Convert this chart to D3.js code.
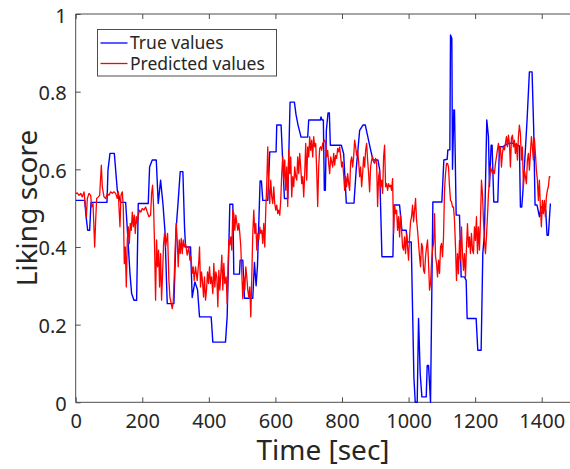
<!DOCTYPE html>
<html>
<head>
<meta charset="utf-8">
<script src="https://cdn.jsdelivr.net/npm/d3@7"></script>
<style>
  body { margin: 0; background: #fff; }
  text { font-family: "Noto Sans", "DejaVu Sans", sans-serif; fill: #262626; }
</style>
</head>
<body>
<svg width="570" height="469"></svg>
<script>
// true liking score (blue), time in sec
var trueT = [0,27,31,36,42,46,94,97,103,116,125,135,150,155,163,168,175,183,188,218,222,230,242,248,255,262,268,275,295,
  302,308,314,322,327,330,345,350,358,366,372,407,412,450,455,460,463,472,475,492,494,502,507,532,537,542,546,554,558,
  562,577,583,602,604,617,623,627,637,644,657,662,668,677,697,700,735,737,740,744,747,750,753,758,762,765,798,805,813,
  836,843,853,863,870,876,886,893,908,913,920,953,956,973,980,993,996,1008,1016,1020,1026,1030,1035,1040,1053,1056,
  1060,1066,1073,1100,1106,1116,1118,1124,1126,1130,1132,1136,1138,1143,1153,1158,1168,1173,1176,1203,1208,1218,1223,
  1228,1235,1240,1243,1248,1251,1256,1268,1273,1283,1295,1310,1333,1336,1340,1343,1350,1356,1363,1371,1376,1380,1386,
  1393,1398,1408,1412,1416,1420,1426];
var trueV = [.52,.52,.48,.443,.443,.515,.515,.598,.641,.641,.546,.515,.515,.447,.332,.28,.263,.263,.512,.512,.606,.624,.624,.512,.572,.512,.443,.254,.254,
  .45,.52,.594,.594,.45,.40,.40,.27,.31,.29,.22,.22,.155,.155,.22,.40,.51,.51,.33,.33,.366,.366,.268,.268,.36,.30,.35,.57,.57,
  .52,.52,.645,.645,.714,.714,.60,.525,.525,.773,.773,.74,.714,.683,.683,.727,.727,.735,.727,.727,.546,.546,.70,.745,.745,.662,.662,.64,.513,
  .513,.603,.70,.714,.714,.69,.65,.624,.624,.60,.375,.375,.508,.508,.443,.443,.413,.413,.065,0,0,.216,.073,.014,.014,.095,
  .095,0,.516,.516,.624,.626,.65,.65,.946,.937,.60,.753,.753,.482,.482,.323,.323,.314,.216,.216,.134,.134,.383,
  .435,.727,.684,.555,.662,.662,.516,.516,.658,.658,.665,.668,.66,.503,.503,.537,.637,.727,.851,.851,.701,.508,.508,
  .478,.503,.503,.495,.43,.43,.512];

// predicted liking score (red)
var predT = [0,5,10,15,20,25,28,32,35,40,45,48,52,57,60,63,68,72,77,80,85,90,95,100,105,110,115,120,125,128,130,133,136,140,143,
  146,149,152,155,158,161,164,167,170,173,176,179,182,185,188,192,196,200,205,210,215,220,225,228,231,234,237,240,243,246,249,
  252,255,258,261,264,267,270,273,276,280,283,287,290,293,296,299,302,305,308,311,314,317,320,323,326,330,335,340,343,346,350,
  353,356,360,365,370,372,375,378,381,384,387,390,393,396,399,402,405,408,412,415,418,421,424,427,430,433,436,439,442,445,448,
  452,455,458,460,463,466,469,472,475,478,481,484,487,490,493,496,499,502,505,508,511,514,517,520,523,526,529,532,535,538,541,
  544,547,550,553,556,559,562,565,568,571,574,577,580,583,586,589,592,595,598,601,604,607,610,613,616,619,622,625,628,631,634,
  637,640,643,646,649,652,655,658,661,664,667,670,673,676,679,682,685,688,691,694,697,700,703,706,709,712,715,718,721,724,727,
  730,733,736,739,742,748,751,754,757,760,763,766,769,772,775,778,781,784,787,790,793,796,799,802,805,808,811,814,817,820,823,
  826,829,832,835,838,841,844,847,850,853,856,859,862,865,868,871,874,877,880,883,886,889,892,895,898,901,904,907,910,913,916,
  919,922,925,928,931,934,937,940,943,946,949,952,955,958,961,964,967,970,973,976,979,982,985,988,991,994,997,1000,1003,1006,
  1009,1012,1015,1018,1021,1024,1027,1030,1033,1036,1039,1042,1045,1048,1051,1054,1057,1060,1063,1066,1069,1072,1075,1078,
  1081,1084,1087,1090,1093,1096,1099,1102,1105,1108,1111,1114,1117,1120,1123,1126,1129,1132,1135,1138,1141,1144,1147,1150,
  1153,1156,1159,1162,1165,1168,1171,1174,1177,1180,1183,1186,1189,1192,1195,1198,1201,1204,1207,1210,1213,1216,1219,1222,
  1225,1228,1231,1234,1237,1240,1243,1246,1249,1252,1255,1258,1261,1264,1267,1270,1273,1276,1279,1282,1285,1288,1291,1294,
  1297,1300,1303,1306,1309,1312,1315,1318,1321,1324,1327,1330,1333,1336,1339,1342,1345,1348,1351,1354,1357,1360,1363,1366,
  1369,1372,1375,1378,1381,1384,1387,1390,1393,1396,1399,1402,1405,1408,1411,1414,1417,1420,1423,1426];
var predV = [.538,.539,.533,.538,.529,.542,.516,.478,.525,.538,.533,.503,.512,.40,.469,.525,.529,.533,.611,.555,.529,.525,.538,.533,.542,.538,.542,.538,.525,.542,.503,.452,.533,.542,.503,
  .357,.40,.297,.418,.452,.409,.461,.443,.49,.452,.482,.435,.478,.461,.482,.495,.49,.499,.495,.503,.49,.478,.482,.538,.559,.503,.40,.263,.418,.349,.392,
  .297,.383,.263,.332,.409,.435,.40,.418,.435,.314,.271,.254,.241,.258,.323,.40,.461,.418,.349,.418,.383,.422,.383,.418,.40,.409,.379,.40,.366,.375,.332,
  .349,.314,.349,.314,.366,.40,.297,.336,.31,.271,.323,.263,.289,.336,.306,.349,.306,.323,.28,.358,.297,.336,.323,.246,.34,.289,.332,.379,.289,.358,.306,
  .323,.254,.358,.418,.405,.426,.392,.495,.486,.443,.482,.461,.443,.461,.435,.40,.332,.267,.323,.289,.349,.323,.289,.271,.297,.22,.323,.435,.495,.435,.461,
  .392,.435,.418,.452,.435,.443,.409,.461,.40,.495,.563,.658,.555,.512,.572,.529,.512,.555,.512,.495,.508,.486,.495,.482,.521,.589,.632,.572,.624,.546,.606,
  .504,.649,.589,.632,.529,.581,.555,.606,.581,.572,.632,.589,.641,.606,.563,.581,.529,.589,.667,.572,.658,.632,.684,.649,.675,.632,.684,.658,.667,.598,.504,
  .606,.654,.658,.649,.667,.675,.667,.632,.649,.615,.589,.632,.619,.606,.641,.611,.636,.628,.654,.645,.658,.632,.606,.619,.585,.546,.581,.555,.589,.563,.546,
  .619,.632,.606,.632,.675,.658,.636,.649,.619,.581,.606,.555,.589,.632,.606,.649,.667,.624,.589,.542,.606,.624,.632,.619,.615,.628,.615,.504,.581,.598,.555,
  .572,.538,.632,.662,.555,.563,.546,.563,.555,.559,.546,.576,.435,.508,.486,.495,.443,.478,.426,.482,.443,.40,.392,.426,.383,.435,.40,.366,.426,.465,
  .478,.508,.465,.495,.525,.469,.443,.409,.375,.349,.409,.40,.34,.332,.375,.40,.418,.358,.289,.306,.358,.392,.409,.486,
  .375,.358,.323,.366,.332,.40,.409,.375,.426,.546,.589,.615,.615,.606,.555,.52,.516,.503,.503,.469,.40,.314,.383,.331,
  .417,.366,.452,.383,.34,.383,.323,.40,.46,.40,.426,.383,.435,.392,.383,.452,.417,.478,.383,.452,.392,.469,.572,.537,
  .469,.417,.383,.426,.478,.537,.572,.606,.598,.589,.598,.589,.615,.632,.65,.667,.641,.658,.606,.641,.658,.65,.667,.684,
  .658,.688,.667,.606,.68,.688,.658,.675,.641,.667,.624,.684,.714,.692,.624,.658,.555,.598,.581,.563,.624,.641,.598,.641,
  .684,.658,.624,.68,.641,.598,.572,.52,.572,.503,.452,.52,.486,.52,.478,.529,.546,.555,.581,.58];

var xTicks = [0, 200, 400, 600, 800, 1000, 1200, 1400];
var yTicks = [0, 0.2, 0.4, 0.6, 0.8, 1];
var seriesNames = ["True values", "Predicted values"];
var seriesColors = ["#0000ff", "#ff0000"];

var svg = d3.select("svg");
var plotLeft = 75.7, plotRight = 575, plotTop = 14, plotBottom = 402.3;

var x = d3.scaleLinear().domain([0, 1500]).range([plotLeft, plotRight]);
var y = d3.scaleLinear().domain([0, 1]).range([plotBottom, plotTop]);

var axisColor = "#4d4d4d";
var fontStack = '"Noto Sans", "DejaVu Sans", sans-serif';

// axes, ticks pointing inward like matlab
var gx = svg.append("g")
    .attr("transform", "translate(0," + plotBottom + ")")
    .call(d3.axisBottom(x).tickValues(xTicks).tickSize(-5).tickPadding(12).tickFormat(d3.format("d")));
var gxTop = svg.append("g")
    .attr("transform", "translate(0," + plotTop + ")")
    .call(d3.axisTop(x).tickValues(xTicks).tickSize(-5).tickFormat(""));
var gy = svg.append("g")
    .attr("transform", "translate(" + plotLeft + ",0)")
    .call(d3.axisLeft(y).tickValues(yTicks).tickSize(-5).tickPadding(9).tickFormat(function (d) { return d; }));

[gx, gxTop, gy].forEach(function (g) {
    g.select(".domain").remove();
    g.selectAll(".tick line").attr("stroke", axisColor);
    g.selectAll(".tick text")
        .style("font-family", fontStack)
        .style("font-size", "20px")
        .attr("fill", "#262626");
});
gy.selectAll(".tick text").attr("dy", "0.4em");

// box (right side falls outside the picture)
svg.append("path")
    .attr("d", "M" + plotRight + "," + plotTop + "H" + plotLeft + "V" + plotBottom + "H" + plotRight)
    .attr("fill", "none")
    .attr("stroke", axisColor)
    .attr("stroke-width", 1);

svg.append("clipPath").attr("id", "plotclip")
    .append("rect")
    .attr("x", plotLeft).attr("y", plotTop - 2)
    .attr("width", plotRight - plotLeft).attr("height", plotBottom - plotTop + 3);

var line = d3.line()
    .x(function (d) { return x(d[0]); })
    .y(function (d) { return y(d[1]); });

var trueData = trueT.map(function (t, i) { return [t, trueV[i]]; });
var predData = predT.map(function (t, i) { return [t, predV[i]]; });

svg.append("path")
    .datum(trueData)
    .attr("clip-path", "url(#plotclip)")
    .attr("fill", "none")
    .attr("stroke", seriesColors[0])
    .attr("stroke-width", 1.4)
    .attr("stroke-linejoin", "round")
    .attr("d", line);

svg.append("path")
    .datum(predData)
    .attr("clip-path", "url(#plotclip)")
    .attr("fill", "none")
    .attr("stroke", seriesColors[1])
    .attr("stroke-width", 1.3)
    .attr("stroke-linejoin", "round")
    .attr("d", line);

// legend
var legend = svg.append("g").attr("transform", "translate(97.5,29.5)");
legend.append("rect")
    .attr("width", 179)
    .attr("height", 46.5)
    .attr("fill", "#fff")
    .attr("stroke", axisColor);
seriesNames.forEach(function (name, i) {
    var ly = 13.5 + i * 20.5;
    legend.append("line")
        .attr("x1", 3).attr("x2", 30)
        .attr("y1", ly).attr("y2", ly)
        .attr("stroke", seriesColors[i])
        .attr("stroke-width", 1.3);
    legend.append("text")
        .attr("x", 32.5)
        .attr("y", ly)
        .attr("dy", "0.36em")
        .style("font-size", "17.5px")
        .text(name);
});

// axis titles
svg.append("text")
    .attr("x", 323)
    .attr("y", 460)
    .attr("text-anchor", "middle")
    .style("font-size", "28px")
    .text("Time [sec]");

svg.append("text")
    .attr("transform", "translate(37,208) rotate(-90)")
    .attr("text-anchor", "middle")
    .style("font-size", "28px")
    .text("Liking score");
</script>
</body>
</html>
